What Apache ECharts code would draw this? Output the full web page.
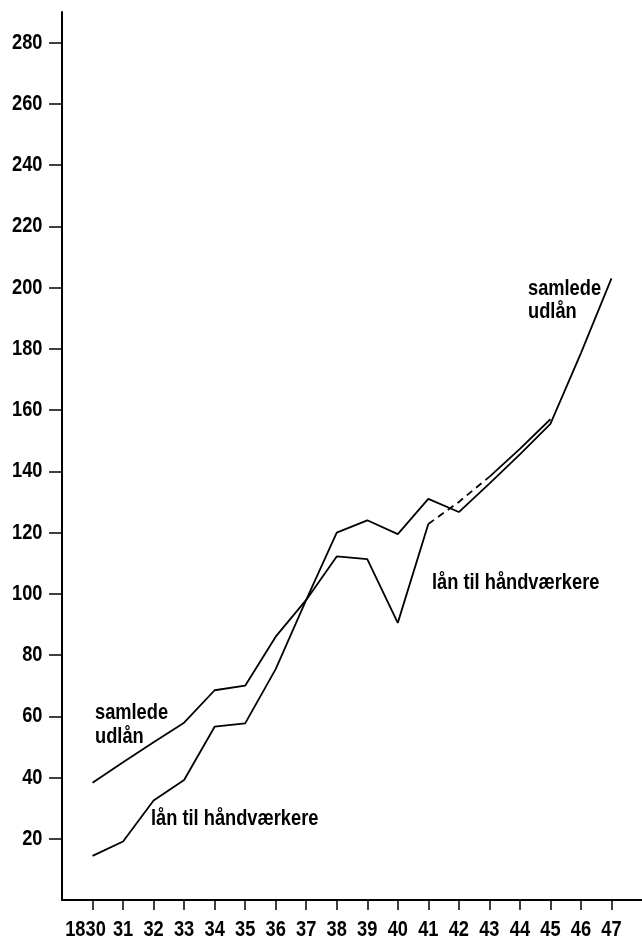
<!DOCTYPE html>
<html>
<head>
<meta charset="utf-8">
<script src="https://cdn.jsdelivr.net/npm/echarts@6/dist/echarts.min.js"></script>
<style>
  html, body { margin: 0; padding: 0; background: #fff; }
  #chart { width: 642px; height: 939px; }
</style>
</head>
<body>
<div id="chart"></div>
<script>
// Years on the horizontal axis and their printed tick labels
const years = [1830, 1831, 1832, 1833, 1834, 1835, 1836, 1837, 1838, 1839,
               1840, 1841, 1842, 1843, 1844, 1845, 1846, 1847];
const yearLabels = ['1830', '31', '32', '33', '34', '35', '36', '37', '38', '39',
                    '40', '41', '42', '43', '44', '45', '46', '47'];

// Total lending (samlede udlån), 1830-1847
const samledeUdlaan = [38.3, 45, 51.5, 57.9, 68.5, 70, 86, 98, 120, 124,
                       119.5, 131, 126.7, 136, 145.5, 155.5, 178.6, 203];

// Loans to craftsmen (lån til håndværkere), 1830-1845
const laanYears = years.slice(0, 16);
const laanHaandvaerkere = [14.4, 19.1, 32.5, 39.2, 56.6, 57.7, 75.4, 98, 112.2, 111.3,
                           90.5, 122.8, 130, 138.2, 147.3, 157];

// Value-axis ticks
const yTicks = [20, 40, 60, 80, 100, 120, 140, 160, 180, 200, 220, 240, 260, 280];

// Condensed lettering: a bold grotesque squeezed horizontally
const FONT = "bold 22px 'Liberation Sans', Arial, sans-serif";
const SQUEEZE = 0.83;
const black = '#000';

const pairs = (xs, ys) => xs.map((x, i) => [x, ys[i]]);
const laanPairs = pairs(laanYears, laanHaandvaerkere);
// 1841-1843 of the craftsmen series is drawn dashed
const laanFirst = laanPairs.slice(0, 12);   // 1830-1841
const laanDashed = laanPairs.slice(11, 14); // 1841-1843
const laanLast = laanPairs.slice(13);       // 1843-1845

const lineBase = { type: 'line', showSymbol: false, symbol: 'none', silent: true, animation: false };
const solid = { color: black, width: 1.8 };

const chart = echarts.init(document.getElementById('chart'), null, { renderer: 'canvas' });
chart.setOption({
  backgroundColor: '#fff',
  animation: false,
  grid: { left: 62, width: 581, top: 12, bottom: 39 },
  xAxis: {
    type: 'value',
    min: 1829,
    max: 1848,
    axisLine: { show: true, lineStyle: { color: black, width: 2 } },
    axisTick: { show: true, customValues: years, length: 10, lineStyle: { color: black, width: 1.5 } },
    splitLine: { show: false },
    axisLabel: { show: false }
  },
  yAxis: {
    type: 'value',
    min: 0,
    max: 290,
    axisLine: { show: true, lineStyle: { color: black, width: 2 } },
    axisTick: { show: true, customValues: yTicks, length: 13, lineStyle: { color: black, width: 1.5 } },
    splitLine: { show: false },
    axisLabel: { show: false }
  },
  series: [
    Object.assign({}, lineBase, { name: 'samlede udlån', data: pairs(years, samledeUdlaan), lineStyle: solid }),
    Object.assign({}, lineBase, { name: 'lån til håndværkere', data: laanFirst, lineStyle: solid }),
    Object.assign({}, lineBase, {
      name: 'lån til håndværkere 1841-43', data: laanDashed,
      lineStyle: { color: black, width: 1.8, type: [7, 5] }
    }),
    Object.assign({}, lineBase, { name: 'lån til håndværkere 1843-45', data: laanLast, lineStyle: solid })
  ]
});

// Text element in the squeezed face; (x, y) is the anchor, scaled about that anchor
function label(text, x, y, align) {
  return {
    type: 'text', x: x, y: y, scaleX: SQUEEZE, silent: true,
    style: { text: text, font: FONT, fill: black, align: align || 'left', verticalAlign: 'middle' }
  };
}

// Tick labels placed through the axes' own scales
const origin = chart.convertToPixel({ gridIndex: 0 }, [1829, 0]);
const graphics = [];
years.forEach((yr, i) => {
  const px = chart.convertToPixel({ gridIndex: 0 }, [yr, 0]);
  const shift = i === 0 ? -7 : 0; // the century digits hang to the left of the first tick
  graphics.push(label(yearLabels[i], px[0] + shift, origin[1] + 29.5, 'center'));
});
yTicks.forEach(v => {
  const px = chart.convertToPixel({ gridIndex: 0 }, [1829, v]);
  graphics.push(label(String(v), origin[0] - 19.5, px[1], 'right'));
});

// Series names written beside the lines
graphics.push(label('samlede', 95, 713));
graphics.push(label('udlån', 95, 736.5));
graphics.push(label('lån til håndværkere', 151, 819));
graphics.push(label('lån til håndværkere', 432, 582.5));
graphics.push(label('samlede', 528, 289));
graphics.push(label('udlån', 528, 311.5));

chart.setOption({ graphic: graphics });
</script>
</body>
</html>
